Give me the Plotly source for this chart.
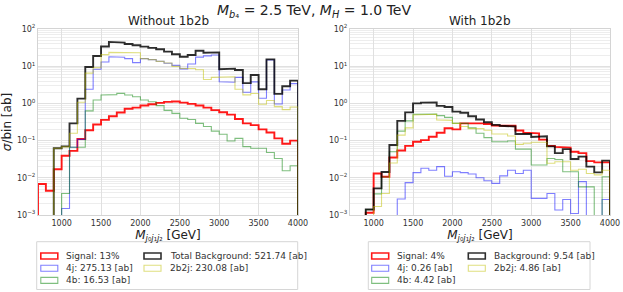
import numpy as np
import plotly.graph_objects as go

# ---------------- data ----------------
bin_edges = list(range(700, 4001, 100))  # 33 bins of 100 GeV

# Left panel: "Without 1b2b"
left_signal = [0.0068, 0.0045, 0.017, 0.039, 0.053, 0.11, 0.19, 0.27, 0.36, 0.45, 0.57,
               0.72, 0.77, 0.88, 0.95, 1.03, 1.10, 1.12, 1.05, 0.97, 0.88, 0.77, 0.66,
               0.58, 0.50, 0.38, 0.29, 0.26, 0.20, 0.165, 0.115, 0.082, 0.10]
left_4j = [0, 0, 0, 0.0015, 0.066, 0.108, 2.4, 8.3, 13, 18, 17.5,
           16, 12.5, 16, 15, 13.6, 12, 10.5, 8.5, 11.5, 17.5, 19, 20,
           3.8, 3.7, 5.0, 2.0, 3.8, 1.37, 14.7, 0.96, 2.3, 3.4]
left_4b = [0, 0, 0, 0.0038, 0.066, 0.066, 0.63, 1.23, 1.68, 1.72, 1.86,
           1.68, 1.51, 1.23, 1.11, 0.87, 0.65, 0.54, 0.40, 0.37, 0.29, 0.24, 0.18,
           0.148, 0.098, 0.115, 0.069, 0.062, 0.062, 0.048, 0.033, 0.0155, 0.021]
left_total = [0, 0, 0.062, 0.070, 0.29, 1.34, 9.5, 18.8, 34, 45, 43,
              39.5, 36.5, 33.5, 31, 28.5, 24.6, 21, 18, 20, 26, 23, 23.5,
              8.3, 8.6, 7.9, 3.5, 5.8, 2.4, 15.3, 1.8, 2.9, 4.1]
left_2b2j = [0, 0, 0.062, 0.068, 0.157, 1.07, 6.5, 9.1, 20.5, 23.5, 23.5,
             23, 23, 16, 15, 13.5, 12.2, 9.9, 8.7, 8.7, 8.0, 4.4, 5.0,
             5.2, 5.2, 2.4, 1.7, 1.85, 0.95, 1.2, 0.82, 0.68, 0.8]

# Right panel: "With 1b2b"
right_signal = [0, 0, 0.00115, 0.013, 0.0107, 0.035, 0.054, 0.072, 0.093, 0.103, 0.127,
                0.163, 0.214, 0.20, 0.29, 0.30, 0.29, 0.28, 0.255, 0.255, 0.25, 0.186, 0.163,
                0.157, 0.106, 0.072, 0.068, 0.065, 0.05, 0.046, 0.028, 0.026, 0.026]
right_4j = [0, 0, 0, 0, 0, 0, 0.0027, 0.0074, 0.0138, 0.018, 0.016,
            0.020, 0.011, 0.0146, 0.0138, 0.0127, 0.0100, 0.0083, 0.0071, 0.0113, 0.016, 0.013, 0.016,
            0.0028, 0.0028, 0.0038, 0.00136, 0.0026, 0.0011, 0.0079, 0, 0, 0.0026]
right_4b = [0, 0, 0.0014, 0.0037, 0.0105, 0.05, 0.18, 0.34, 0.51, 0.51, 0.52,
            0.47, 0.42, 0.29, 0.29, 0.22, 0.157, 0.12, 0.093, 0.093, 0.098, 0.059, 0.059,
            0.022, 0.022, 0.033, 0.031, 0.0146, 0.0146, 0.0057, 0.0057, 0, 0.0107]
right_total = [0, 0, 0.0014, 0.0052, 0.0143, 0.076, 0.34, 0.575, 1.0, 1.05, 1.06,
               0.86, 0.80, 0.60, 0.56, 0.45, 0.37, 0.31, 0.265, 0.25, 0.24, 0.15, 0.15,
               0.125, 0.13, 0.07, 0.046, 0.059, 0.032, 0.037, 0.020, 0.014, 0.029]
right_2b2j = [0, 0, 0, 0.0017, 0.0038, 0.025, 0.14, 0.22, 0.49, 0.51, 0.51,
              0.36, 0.35, 0.29, 0.24, 0.21, 0.21, 0.19, 0.15, 0.15, 0.133, 0.079, 0.085,
              0.09, 0.09, 0.0245, 0.027, 0.027, 0.016, 0.017, 0.013, 0.012, 0.016]

left_labels = ["Signal: 13%", "4j: 275.13 [ab]", "4b: 16.53 [ab]",
               "Total Background: 521.74 [ab]", "2b2j: 230.08 [ab]"]
right_labels = ["Signal: 4%", "4j: 0.26 [ab]", "4b: 4.42 [ab]",
                "Background: 9.54 [ab]", "2b2j: 4.86 [ab]"]

x_tick_vals = [1000, 1500, 2000, 2500, 3000, 3500, 4000]
y_tick_vals = [1e-3, 1e-2, 1e-1, 1e0, 1e1, 1e2]
y_tick_text = ["10<sup>−3</sup>", "10<sup>−2</sup>", "10<sup>−1</sup>",
               "10<sup>0</sup>", "10<sup>1</sup>", "10<sup>2</sup>"]
y_minor_vals = [k * 10.0 ** n for n in range(-3, 2) for k in range(2, 10)]

# ---------------- styling ----------------
FONT = "DejaVu Sans"
styles = [  # order of drawing: Signal, 4j, 4b, Total, 2b2j
    dict(color="rgba(255,0,0,0.9)", width=1.9),
    dict(color="rgba(0,0,255,0.5)", width=1.1),
    dict(color="rgba(0,128,0,0.5)", width=1.1),
    dict(color="rgba(0,0,0,0.82)", width=1.9),
    dict(color="rgba(191,191,0,0.5)", width=1.1),
]

FLOOR = 1e-6


def step_xy(values):
    v = np.asarray(values, dtype=float)
    v = np.where(v > 0, v, FLOOR)
    edges = np.asarray(bin_edges, dtype=float)
    x = np.repeat(edges, 2)
    y = np.concatenate([[FLOOR], np.repeat(v, 2), [FLOOR]])
    return x, y


fig = go.Figure()
panels = [
    ("x", "y", [left_signal, left_4j, left_4b, left_total, left_2b2j], left_labels),
    ("x2", "y2", [right_signal, right_4j, right_4b, right_total, right_2b2j], right_labels),
]
for xa, ya, series, labels in panels:
    for vals, st, lab in zip(series, styles, labels):
        x, y = step_xy(vals)
        fig.add_trace(go.Scatter(x=x, y=y, mode="lines", name=lab, showlegend=False,
                                 line=dict(color=st["color"], width=st["width"]),
                                 xaxis=xa, yaxis=ya, hoverinfo="skip"))

# ---------------- layout geometry (pixels) ----------------
W, H = 623, 292
L, R, T, B = 38, 13, 29, 77
PW, PH = W - L - R, H - T - B


def px_x(X):
    return (X - L) / PW


def px_y(Y):
    return (H - B - Y) / PH


grid_major = "#e0e0e0"
grid_minor = "#ededed"
axis_common = dict(showline=True, mirror=True, linecolor="#d4d4d4", linewidth=1,
                   zeroline=False, ticks="", automargin=False)

xaxis_common = dict(range=[700, 4000], tickmode="array", tickvals=x_tick_vals,
                    showgrid=True, gridcolor=grid_major, gridwidth=1,
                    tickfont=dict(family=FONT, size=8, color="#333"),
                    title=dict(text="<i>M</i><sub><i>j</i>₀<i>j</i>₁<i>j</i>₂</sub> [GeV]",
                               font=dict(family=FONT, size=12, color="#222"), standoff=2),
                    **axis_common)
yaxis_common = dict(type="log", range=[-3, 2], tickmode="array", tickvals=y_tick_vals,
                    ticktext=y_tick_text, showgrid=True, gridcolor=grid_major, gridwidth=1,
                    minor=dict(tickmode="array", tickvals=y_minor_vals, showgrid=True,
                               gridcolor=grid_minor, gridwidth=1, ticks=""),
                    tickfont=dict(family=FONT, size=8, color="#333"),
                    **axis_common)

fig.update_layout(
    width=W, height=H,
    margin=dict(l=L, r=R, t=T, b=B, pad=0, autoexpand=False),
    paper_bgcolor="white", plot_bgcolor="white",
    font=dict(family=FONT, color="#222"),
    showlegend=False,
    title=dict(text="<i>M</i><sub><i>b</i>₄</sub> = 2.5 TeV, <i>M</i><sub><i>H</i></sub> = 1.0 TeV",
               x=0.504, xanchor="center", y=1 - 10 / H, yanchor="middle", automargin=False,
               font=dict(family=FONT, size=14, color="#222")),
    xaxis=dict(domain=[0, px_x(298)], anchor="y", **xaxis_common),
    xaxis2=dict(domain=[px_x(350), 1], anchor="y2", **xaxis_common),
    yaxis=dict(domain=[0, 1], anchor="x",
               title=dict(text="<i>σ</i>/bin [ab]", font=dict(family=FONT, size=12, color="#222"),
                          standoff=3),
               **yaxis_common),
    yaxis2=dict(domain=[0, 1], anchor="x2", **yaxis_common),
)

annotations = [
    dict(text="Without 1b2b", x=px_x(168), y=px_y(20.5), xref="paper", yref="paper",
         xanchor="center", yanchor="middle", showarrow=False,
         font=dict(family=FONT, size=12, color="#222")),
    dict(text="With 1b2b", x=px_x(480), y=px_y(20.5), xref="paper", yref="paper",
         xanchor="center", yanchor="middle", showarrow=False,
         font=dict(family=FONT, size=12, color="#222")),
]
shapes = []

# ---------------- manual legends (open rectangle handles) ----------------
row_y = [256, 268.2, 280.4]
legend_specs = [
    dict(box=(36.7, 297.7), cols=(40.8, 144.0), labels=left_labels),
    dict(box=(368.3, 590.0), cols=(371.7, 468.3), labels=right_labels),
]
# entry placement: col 0 -> Signal, 4j, 4b ; col 1 -> Total, 2b2j
placement = [(0, 0), (0, 1), (0, 2), (1, 0), (1, 1)]
sw_w, sw_h, gap = 17.0, 6.0, 6.6
for spec in legend_specs:
    bx0, bx1 = spec["box"]
    shapes.append(dict(type="rect", xref="paper", yref="paper",
                       x0=px_x(bx0), x1=px_x(bx1), y0=px_y(241.7), y1=px_y(289.5),
                       line=dict(color="#d6d6d6", width=1), fillcolor="rgba(255,255,255,0.8)",
                       layer="above"))
    for (col, row), st, lab in zip(placement, styles, spec["labels"]):
        sx = spec["cols"][col]
        cy = row_y[row]
        shapes.append(dict(type="rect", xref="paper", yref="paper",
                           x0=px_x(sx), x1=px_x(sx + sw_w),
                           y0=px_y(cy + sw_h / 2), y1=px_y(cy - sw_h / 2),
                           line=dict(color=st["color"], width=min(st["width"], 1.6)),
                           fillcolor="rgba(0,0,0,0)", layer="above"))
        annotations.append(dict(text=lab, x=px_x(sx + sw_w + gap), y=px_y(cy),
                                xref="paper", yref="paper", xanchor="left", yanchor="middle",
                                showarrow=False,
                                font=dict(family=FONT, size=9, color="#333")))

fig.update_layout(annotations=annotations, shapes=shapes)

fig.write_html("out.html",
               config={"displayModeBar": False, "staticPlot": True},
               post_script="document.body.style.margin='0px';document.body.style.overflow='hidden';")
